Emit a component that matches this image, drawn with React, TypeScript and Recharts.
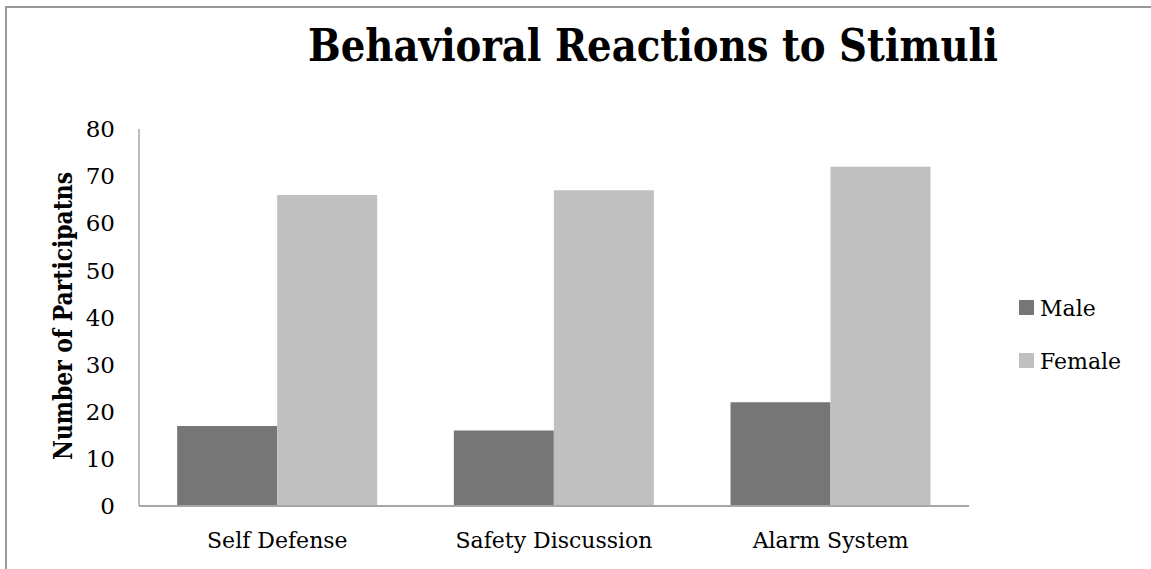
import React from "react";
import { BarChart, Bar, XAxis, YAxis, Legend } from "recharts";

const categories = ["Self Defense", "Safety Discussion", "Alarm System"];
const maleValues = [17, 16, 22];
const femaleValues = [66, 67, 72];
const yTicks = [0, 10, 20, 30, 40, 50, 60, 70, 80];
const seriesNames = ["Male", "Female"];

const data = categories.map((name, i) => ({
  name,
  Male: maleValues[i],
  Female: femaleValues[i],
}));

const FONT = "'DejaVu Serif', 'Liberation Serif', serif";
const FONT_COND = "'DejaVu Serif Condensed', 'DejaVu Serif', serif";
const MALE = "#767676";
const FEMALE = "#c0c0c0";
const AXIS = "#a6a6a6";
const colors = [MALE, FEMALE];

const LegendContent = () => (
  <div style={{ fontFamily: FONT, fontSize: 22, color: "#000", lineHeight: "28px" }}>
    {seriesNames.map((label, i) => (
      <div key={label} style={{ display: "flex", alignItems: "center", height: 28, marginBottom: i === 0 ? 25 : 0 }}>
        <span style={{ display: "inline-block", width: 15, height: 15, background: colors[i], marginRight: 6, marginTop: -3 }} />
        <span>{label}</span>
      </div>
    ))}
  </div>
);

export default function App() {
  return (
    <div style={{ position: "absolute", left: 0, top: 0, width: 1151, height: 569, overflow: "hidden", background: "#fff" }}>
      <div style={{ position: "absolute", left: 5, top: 6, width: 1200, height: 600, borderLeft: "2px solid #999", borderTop: "2px solid #999" }} />
      <div style={{ position: "absolute", left: 0, top: 0 }}>
        <BarChart
          width={1151}
          height={569}
          data={data}
          margin={{ top: 129, right: 182, bottom: 33, left: 79 }}
          barCategoryGap="13.8%"
          barGap={0}
        >
          <XAxis
            dataKey="name"
            axisLine={{ stroke: AXIS, strokeWidth: 2 }}
            tickLine={false}
            tickSize={6}
            tickMargin={20}
            tick={{ fill: "#000", fontFamily: FONT, fontSize: 22 }}
          />
          <YAxis
            width={60}
            domain={[0, 80]}
            ticks={yTicks}
            interval={0}
            axisLine={{ stroke: AXIS, strokeWidth: 1.5 }}
            tickLine={false}
            tickSize={6}
            tickMargin={18}
            tick={{ fill: "#000", fontFamily: FONT, fontSize: 23 }}
          />
          <Legend
            layout="vertical"
            align="center"
            verticalAlign="middle"
            wrapperStyle={{ left: 1019, top: 295, width: 130 }}
            content={<LegendContent />}
          />
          <Bar dataKey="Male" fill={MALE} isAnimationActive={false} />
          <Bar dataKey="Female" fill={FEMALE} isAnimationActive={false} />
        </BarChart>
      </div>
      <svg width={1151} height={569} style={{ position: "absolute", left: 0, top: 0, pointerEvents: "none" }}>
        <text
          x={653}
          y={61}
          textAnchor="middle"
          fontFamily={FONT_COND}
          fontWeight="bold"
          fontSize={45}
          textLength={690}
          lengthAdjust="spacingAndGlyphs"
          fill="#000"
        >
          Behavioral Reactions to Stimuli
        </text>
        <text
          x={72}
          y={316}
          transform="rotate(-90, 72, 316)"
          textAnchor="middle"
          fontFamily={FONT_COND}
          fontWeight="bold"
          fontSize={26}
          textLength={288}
          lengthAdjust="spacingAndGlyphs"
          fill="#000"
        >
          Number of Participatns
        </text>
      </svg>
    </div>
  );
}
